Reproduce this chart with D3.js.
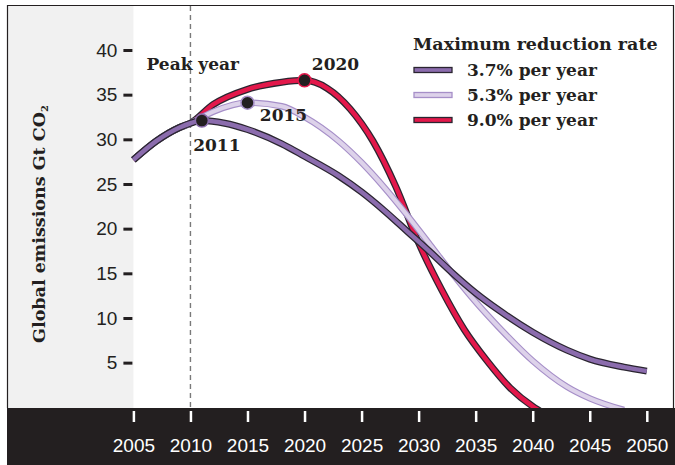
<!DOCTYPE html>
<html><head><meta charset="utf-8">
<script src="https://cdn.jsdelivr.net/npm/d3@7"></script>
<style>body{margin:0;background:#fff;}svg{display:block;}</style>
</head><body>
<svg id="c" width="675" height="465"></svg>
<script>
// ---- data ----
const histYears = [2005, 2007, 2009, 2010];
const histVals  = [27.7, 29.8, 31.3, 31.8];

const rate37Years = [2011, 2013, 2015, 2018, 2020, 2023, 2025, 2027, 2029, 2031, 2033, 2035, 2037, 2040, 2043, 2045, 2048, 2050];
const rate37Vals  = [32.1, 31.8, 31.1, 29.5, 28.1, 25.9, 24.1, 22.0, 19.7, 17.4, 15.0, 12.8, 10.9, 8.4, 6.4, 5.4, 4.5, 4.05];

const rate53Years = [2012, 2015, 2018, 2020, 2023, 2025, 2027, 2029, 2031, 2033, 2035, 2037, 2040, 2043, 2045, 2048];
const rate53Vals  = [33.1, 34.1, 33.7, 32.5, 29.8, 27.4, 24.6, 21.5, 18.2, 14.9, 11.8, 9.0, 5.2, 2.3, 1.0, -0.3];

const rate90Years = [2012, 2015, 2018, 2020, 2022, 2024, 2026, 2028, 2030, 2032, 2034, 2036, 2038, 2040, 2041];
const rate90Vals  = [33.9, 35.6, 36.4, 36.6, 35.7, 33.4, 29.8, 24.7, 18.4, 13.2, 8.7, 5.2, 2.2, 0.1, -0.7];

const seriesNames = ["3.7% per year", "5.3% per year", "9.0% per year"];
const peakYears = [2011, 2015, 2020];
const peakVals  = [32.1, 34.1, 36.6];

const xTicks = [2005, 2010, 2015, 2020, 2025, 2030, 2035, 2040, 2045, 2050];
const yTicks = [5, 10, 15, 20, 25, 30, 35, 40];

// ---- layout ----
const W = 675, H = 465;
const svg = d3.select("#c");
const x = d3.scaleLinear().domain([2005, 2050]).range([133.4, 646.8]);
const y = d3.scaleLinear().domain([0, 40]).range([407.3, 50]);
const bandTop = 408;

const dark = "#231f20";
const styles = [
  {outer: "#2a2530", inner: "#8b6cad", ow: 7, iw: 4.5},
  {outer: "#a68fc8", inner: "#ddd2ea", ow: 6.5, iw: 4.2},
  {outer: "#2a2530", inner: "#e3184b", ow: 7, iw: 4.5}
];

// background & frame
svg.append("rect").attr("x", 7).attr("y", 5).attr("width", W - 9).attr("height", H - 5)
  .attr("fill", "#fff");
svg.append("rect").attr("x", 7).attr("y", 5).attr("width", x(2005) - 7).attr("height", bandTop - 5)
  .attr("fill", "#f1f1f1");

// dashed peak line
svg.append("line").attr("x1", x(2010)).attr("x2", x(2010)).attr("y1", 6).attr("y2", bandTop)
  .attr("stroke", "#7a7a7a").attr("stroke-width", 1.4).attr("stroke-dasharray", "5,4");

// lines
const toPts = (ys, vs) => ys.map((d, i) => [d, vs[i]]);
const hist = toPts(histYears, histVals);
const series = [
  hist.concat(toPts(rate37Years, rate37Vals)),
  hist.concat(toPts(rate53Years, rate53Vals)),
  hist.concat(toPts(rate90Years, rate90Vals))
];
const line = d3.line().x(d => x(d[0])).y(d => y(d[1])).curve(d3.curveMonotoneX);

const gLines = svg.append("g");
[2, 1, 0].forEach(i => {
  gLines.append("path").attr("d", line(series[i])).attr("fill", "none")
    .attr("stroke", styles[i].outer).attr("stroke-width", styles[i].ow).attr("stroke-linecap", "butt");
  gLines.append("path").attr("d", line(series[i])).attr("fill", "none")
    .attr("stroke", styles[i].inner).attr("stroke-width", styles[i].iw).attr("stroke-linecap", "butt");
});

// peak dots
const dotRims = ["#8b6cad", "#a68fc8", "#e3184b"];
peakYears.forEach((yr, i) => {
  svg.append("circle").attr("cx", x(yr)).attr("cy", y(peakVals[i])).attr("r", 6.5)
    .attr("fill", dark).attr("stroke", dotRims[i]).attr("stroke-width", 1.5);
});

const serif = "'DejaVu Serif', serif";
const sans = "'Liberation Sans', Arial, sans-serif";

// peak labels
const lab = [
  {t: "2011", dx: 15, dy: 30},
  {t: "2015", dx: 36, dy: 18},
  {t: "2020", dx: 31, dy: -10}
];
peakYears.forEach((yr, i) => {
  svg.append("text").attr("x", x(yr) + lab[i].dx).attr("y", y(peakVals[i]) + lab[i].dy)
    .attr("text-anchor", "middle").attr("font-family", serif).attr("font-weight", "bold")
    .attr("font-size", 17).attr("fill", dark).text(lab[i].t);
});
svg.append("text").attr("x", 146.5).attr("y", 70).attr("font-family", serif).attr("font-weight", "bold")
  .attr("font-size", 17).attr("fill", dark).text("Peak year");

// y axis
const yAxis = svg.append("g").attr("transform", `translate(${x(2005) - 1},0)`)
  .call(d3.axisLeft(y).tickValues(yTicks).tickSize(9).tickPadding(6));
yAxis.select(".domain").remove();
yAxis.selectAll(".tick line").attr("stroke", dark).attr("stroke-width", 3);
yAxis.selectAll(".tick text").attr("font-family", sans).attr("font-size", 19).attr("fill", "#231f20");

// y title
const yt = svg.append("text").attr("transform", "translate(45,224) rotate(-90)")
  .attr("text-anchor", "middle").attr("font-family", serif).attr("font-weight", "bold")
  .attr("font-size", 17.5).attr("fill", dark);
yt.append("tspan").text("Global emissions Gt CO");
yt.append("tspan").attr("font-size", 10).attr("dy", 3).text("2");

// bottom band
svg.append("rect").attr("x", 7).attr("y", bandTop).attr("width", W - 7).attr("height", H - bandTop)
  .attr("fill", dark);
const xAxis = svg.append("g").attr("transform", `translate(0,${bandTop + 3})`)
  .call(d3.axisBottom(x).tickValues(xTicks).tickFormat(d3.format("d")).tickSize(11));
xAxis.select(".domain").remove();
xAxis.selectAll(".tick line").attr("stroke", "#fff").attr("stroke-width", 2.5);
xAxis.selectAll(".tick text").attr("y", 41).attr("dy", 0).attr("font-family", sans)
  .attr("font-size", 19).attr("fill", "#fff");

// frame border
svg.append("path").attr("d", `M7.5,${bandTop}V5.5H${W - 1.5}V${bandTop}`)
  .attr("fill", "none").attr("stroke", dark).attr("stroke-width", 1.2);

// legend
const lg = svg.append("g");
lg.append("text").attr("x", 413).attr("y", 50).attr("font-family", serif).attr("font-weight", "bold")
  .attr("font-size", 17.5).attr("fill", dark).text("Maximum reduction rate");
seriesNames.forEach((n, i) => {
  const cy = 70 + i * 25;
  lg.append("rect").attr("x", 414).attr("y", cy - 2.5).attr("width", 38).attr("height", 5)
    .attr("fill", styles[i].inner).attr("stroke", styles[i].outer).attr("stroke-width", 1.3);
  lg.append("text").attr("x", 467).attr("y", cy + 6).attr("font-family", serif).attr("font-weight", "bold")
    .attr("font-size", 17).attr("fill", dark).text(n);
});
</script>
</body></html>
